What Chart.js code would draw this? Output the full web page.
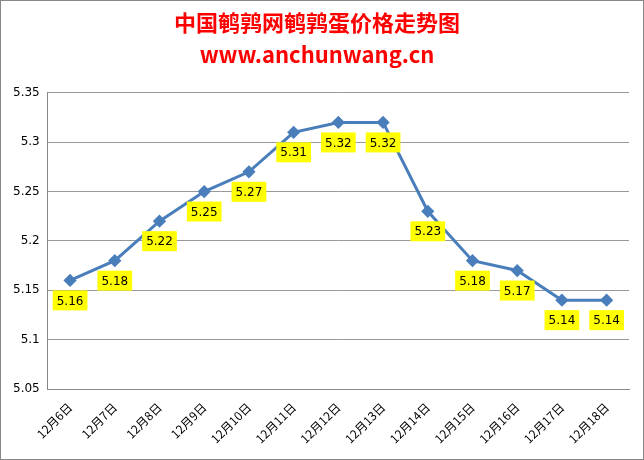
<!DOCTYPE html>
<html><head><meta charset="utf-8">
<script src="https://cdn.jsdelivr.net/npm/chart.js@4"></script>
<style>
body{margin:0;background:#fff}
#wrap{position:absolute;left:0;top:0;width:642px;height:458px;border:1px solid #888}
</style></head><body>
<div id="wrap"><canvas id="c" width="642" height="458"></canvas></div>
<script>
// 数据
const fechas = ['12月6日','12月7日','12月8日','12月9日','12月10日','12月11日','12月12日','12月13日','12月14日','12月15日','12月16日','12月17日','12月18日'];
const precios = [5.16,5.18,5.22,5.25,5.27,5.31,5.32,5.32,5.23,5.18,5.17,5.14,5.14];

// 黄色数值标签
const etiquetas = {
  id: 'etiquetas',
  afterDatasetsDraw(chart) {
    const ctx = chart.ctx;
    const meta = chart.getDatasetMeta(0);
    ctx.save();
    ctx.font = '12px "DejaVu Sans", sans-serif';
    ctx.textAlign = 'center';
    ctx.textBaseline = 'middle';
    meta.data.forEach((p, i) => {
      const t = precios[i].toFixed(2);
      const w = ctx.measureText(t).width + 8;
      const y = p.y + 20;
      ctx.fillStyle = '#ffff00';
      ctx.fillRect(p.x - w / 2, y - 10, w, 20);
      ctx.fillStyle = '#000';
      ctx.fillText(t, p.x, y + 1);
    });
    ctx.restore();
  }
};

new Chart(document.getElementById('c'), {
  type: 'line',
  data: {
    labels: fechas,
    datasets: [{
      data: precios,
      borderColor: '#4a7ebb',
      backgroundColor: '#4a7ebb',
      borderWidth: 3,
      pointStyle: 'rectRot',
      pointRadius: 4.5,
      tension: 0
    }]
  },
  options: {
    responsive: false,
    animation: false,
    layout: { padding: { top: 4, right: 14, left: 4, bottom: 10 } },
    plugins: {
      legend: { display: false },
      tooltip: { enabled: false },
      title: {
        display: true,
        text: ['中国鹌鹑网鹌鹑蛋价格走势图', 'www.anchunwang.cn'],
        color: '#ff0000',
        font: { size: 22, weight: 'bold', family: '"Noto Sans CJK SC", sans-serif', lineHeight: 1.45 },
        padding: { top: 2, bottom: 22 }
      }
    },
    scales: {
      x: {
        offset: true,
        grid: { display: false },
        border: { color: '#888' },
        ticks: { color: '#000', maxRotation: 45, minRotation: 45, font: { size: 12, family: '"Noto Sans CJK SC", sans-serif' } }
      },
      y: {
        min: 5.05, max: 5.35,
        grid: { color: '#999', drawTicks: false },
        border: { color: '#888' },
        ticks: { stepSize: 0.05, color: '#000', padding: 8, font: { size: 12, family: '"DejaVu Sans", sans-serif' },
          callback: v => String(Math.round(v * 100) / 100) }
      }
    }
  },
  plugins: [etiquetas]
});
</script>
</body></html>
